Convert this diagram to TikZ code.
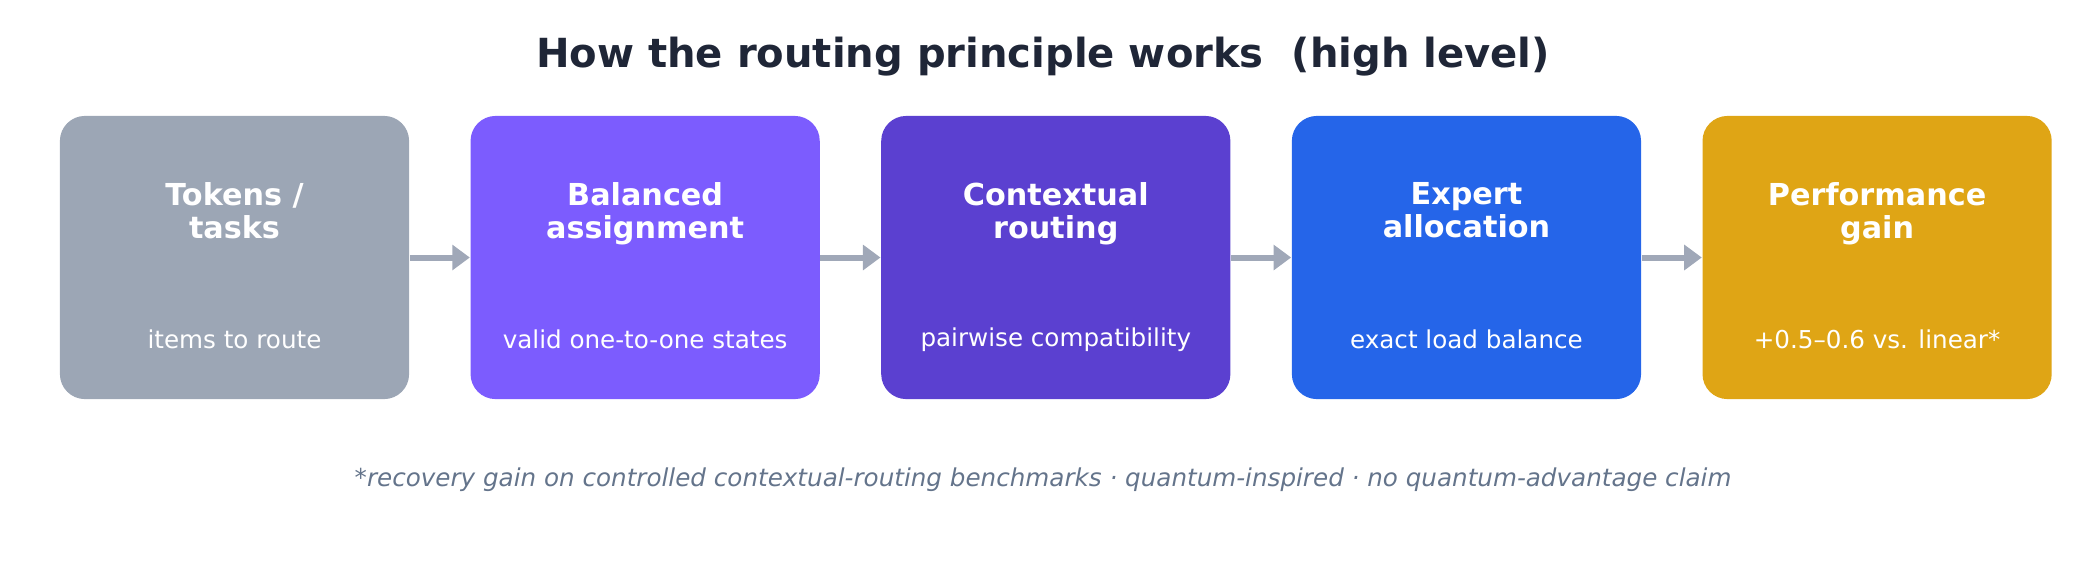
\documentclass[tikz,border=0pt]{standalone}
\usepackage{fontspec}
\setmainfont{DejaVu Sans}
\usetikzlibrary{arrows.meta,positioning}
\definecolor{titlecol}{HTML}{1F2637}
\definecolor{notecol}{HTML}{64748B}
\definecolor{arrowcol}{HTML}{A0A8B8}
\definecolor{tokcol}{HTML}{9CA6B5}
\definecolor{balcol}{HTML}{7C5CFE}
\definecolor{ctxcol}{HTML}{5B40D0}
\definecolor{expcol}{HTML}{2565E9}
\definecolor{percol}{HTML}{DFA515}
\begin{document}
\begin{tikzpicture}[x=0.01cm,y=-0.01cm,
  step box/.style={rounded corners=0.25cm,minimum width=3.49cm,minimum height=2.83cm,inner sep=0pt},
  head/.style={text=white,font=\fontsize{8.6}{9.4}\selectfont\bfseries,align=center},
  sub/.style={text=white,font=\fontsize{7}{8}\selectfont},
  flow/.style={-{Triangle[length=5pt,width=7pt]},line width=1.7pt,color=arrowcol}]

  \useasboundingbox (0,0) rectangle (2086,563);
  \node[font=\fontsize{11.4}{13}\selectfont\bfseries,text=titlecol] (title) at (1043,57) {How the routing principle works\ \ (high level)};

  \node[step box,fill=tokcol] (tok) at (234.5,257.5) {};
  \node[step box,fill=balcol,right=0.6cm of tok] (bal) {};
  \node[step box,fill=ctxcol,right=0.6cm of bal] (ctx) {};
  \node[step box,fill=expcol,right=0.6cm of ctx] (exp) {};
  \node[step box,fill=percol,right=0.6cm of exp] (per) {};

  \foreach \b/\h/\s in {tok/{Tokens /\\tasks}/{items to route},
                        bal/{Balanced\\assignment}/{valid one-to-one states},
                        ctx/{Contextual\\routing}/{pairwise compatibility},
                        exp/{Expert\\allocation}/{exact load balance},
                        per/{Performance\\gain}/{+0.5–0.6 vs. linear*}} {
    \node[head,anchor=north] (\b h) at ([yshift=-0.55cm]\b.north) {\h};
    \node[sub] (\b s) at ([yshift=0.6cm]\b.south) {\s};
  }

  \draw[flow] (tok) -- (bal);
  \draw[flow] (bal) -- (ctx);
  \draw[flow] (ctx) -- (exp);
  \draw[flow] (exp) -- (per);

  \node[font=\fontsize{7}{8}\selectfont\itshape,text=notecol] (note) at (1043,480)
    {*recovery gain on controlled contextual-routing benchmarks · quantum-inspired · no quantum-advantage claim};
\end{tikzpicture}
\end{document}
